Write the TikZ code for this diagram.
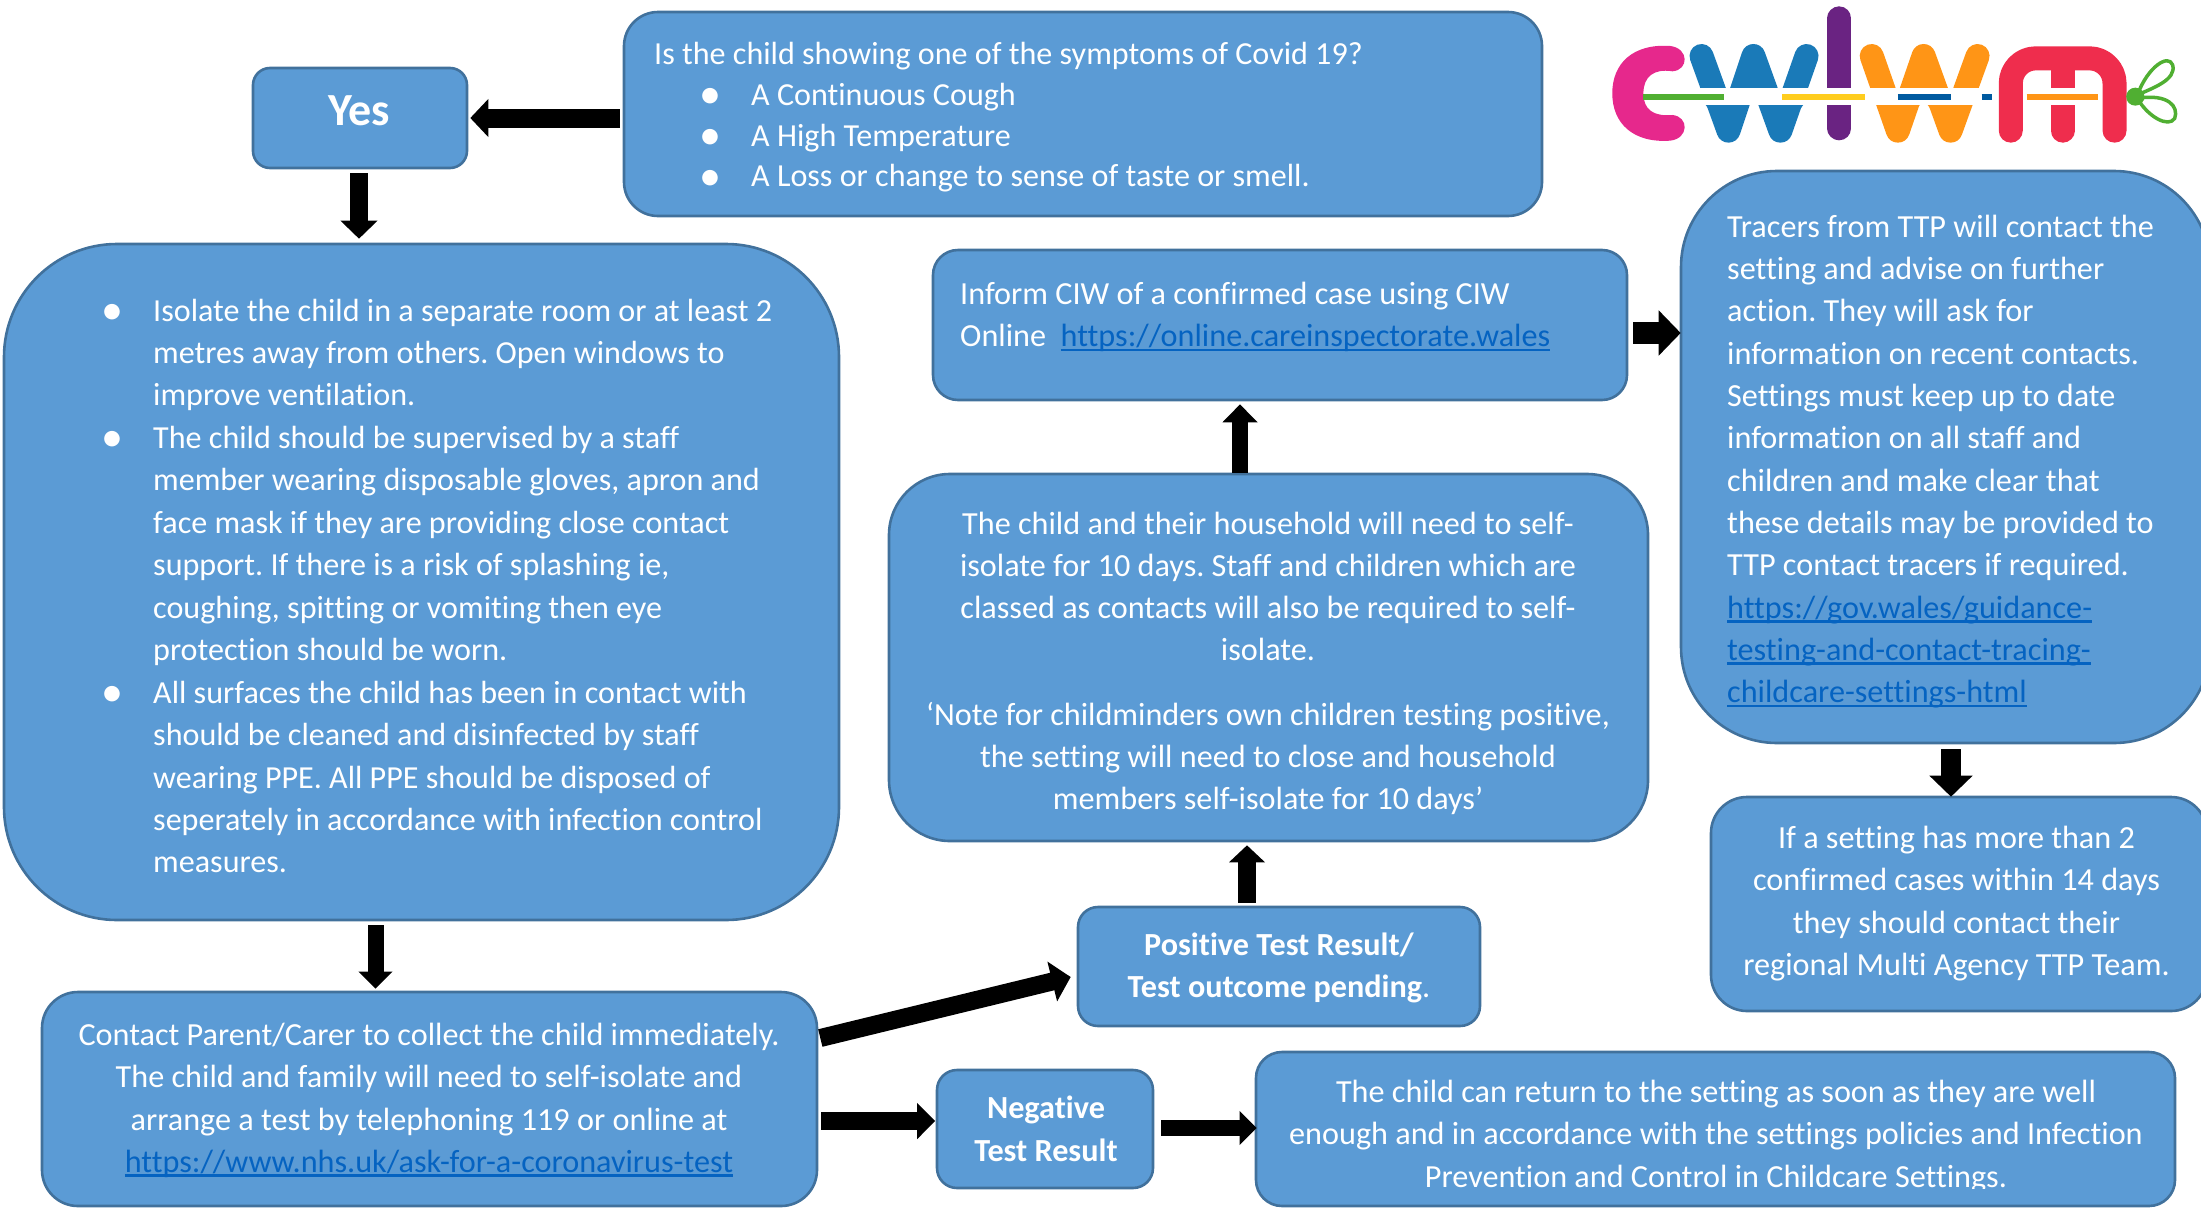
\documentclass[tikz,border=0pt]{standalone}
\usepackage{fontspec}
\setmainfont[Ligatures=NoCommon]{Carlito}
\frenchspacing
\usetikzlibrary{arrows.meta}
\definecolor{boxfill}{HTML}{5B9BD5}
\definecolor{boxline}{HTML}{41719C}
\definecolor{linkc}{HTML}{0563C1}
\newsavebox{\lnkbox}
\newcommand{\lnk}[1]{\sbox{\lnkbox}{\color{linkc}#1}\leavevmode\rlap{\usebox{\lnkbox}}{\color{linkc}\rule[-4.5pt]{\wd\lnkbox}{2.6pt}}}
\newcommand{\bul}{\makebox[0pt][r]{\fontsize{44}{44}\selectfont\raisebox{-3.5pt}{•}\hspace{30pt}}}
\tikzset{
  box/.style n args={4}{draw=boxline,fill=boxfill,line width=2.6pt,inner sep=0pt,rectangle,
    minimum width=#1pt,minimum height=#2pt,rounded corners=#3pt,#4},
  txt/.style={text=white,inner sep=0pt,font=\fontsize{32.2}{42.3}\selectfont},
  txtc/.style={txt,align=center},
  txtl/.style={txt,align=left,anchor=west},
  blockarrow/.style n args={3}{draw=black,line width=#1pt,-{Triangle[width=#2pt,length=#3pt]}},
}
\begin{document}
\begin{tikzpicture}[x=1pt,y=-1pt]
\useasboundingbox (0,0) rectangle (2201,1208);
% boxes
\node[box={918}{204}{34}{}] (q) at (1083,114) {};
\node[box={214}{100}{17}{}] (yes) at (360,118) {};
\node[box={835}{676}{113}{}] (big) at (421.5,582) {};
\node[box={775}{214}{36}{}] (contact) at (429.5,1099) {};
\node[box={402}{119}{20}{}] (pos) at (1279,966.5) {};
\node[box={216}{118}{20}{}] (neg) at (1045,1129) {};
\node[box={919}{154}{26}{}] (back) at (1715.5,1129) {};
\node[box={694}{150}{25}{}] (inform) at (1280,325) {};
\node[box={759}{367}{61}{}] (middle) at (1268.5,657.5) {};
\node[box={529}{572}{96}{}] (tracers) at (1945.5,457) {};
\node[box={496}{214}{36}{}] (regional) at (1959,904) {};
% texts
\node[txtl,font=\fontsize{32.1}{40.8}\selectfont] (qtext) at (654,117.5) {\strut Is the child showing one of the symptoms of Covid 19?\\
\hspace{97pt}\bul A Continuous Cough\\
\hspace{97pt}\bul A High Temperature\\
\hspace{97pt}\bul\strut A Loss or change to sense of taste or smell.};
\node[txtc,font=\fontsize{46}{50}\selectfont\bfseries] (ytext) at (359,111) {Yes};
\node[txtl,font=\fontsize{32.1}{42.45}\selectfont] (bigtext) at (153,588.5) {\bul\strut Isolate the child in a separate room or at least 2\\
metres away from others. Open windows to\\
improve ventilation.\\
\bul The child should be supervised by a staff\\
member wearing disposable gloves, apron and\\
face mask if they are providing close contact\\
support. If there is a risk of splashing ie,\\
coughing, spitting or vomiting then eye\\
protection should be worn.\\
\bul All surfaces the child has been in contact with\\
should be cleaned and disinfected by staff\\
wearing PPE. All PPE should be disposed of\\
seperately in accordance with infection control\\
\strut measures.};
\node[txtc] (ctext) at (429,1100.5) {\strut Contact Parent/Carer to collect the child immediately.\\
The child and family will need to self-isolate and\\
arrange a test by telephoning 119 or online at\\
\strut\lnk{https://www.nhs.uk/ask-for-a-coronavirus-test}};
\node[txtc] (ptext) at (1279,968) {\strut\textbf{Positive Test Result/}\\\strut\textbf{Test outcome pending}.};
\node[txtc] (ntext) at (1046,1131.5) {\strut\textbf{Negative}\\\strut\textbf{Test Result}};
\begin{scope}
\clip (1255,1051) rectangle (2176,1188);
\node[txtc] (btext) at (1716,1136.5) {\strut The child can return to the setting as soon as they are well\\
enough and in accordance with the settings policies and Infection\\
\strut Prevention and Control in Childcare Settings.};
\end{scope}
\node[txtl] (itext) at (960,317) {\strut Inform CIW of a confirmed case using CIW\\
\strut Online\ \ \lnk{https://online.careinspectorate.wales}};
\node[txtc] (mtext) at (1268,663.5) {\strut The child and their household will need to self-\\
isolate for 10 days. Staff and children which are\\
classed as contacts will also be required to self-\\
isolate.\\[22pt]
‘Note for childminders own children testing positive,\\
the setting will need to close and household\\
\strut members self-isolate for 10 days’};
\node[txtl] (ttext) at (1727,461.5) {\strut Tracers from TTP will contact the\\
setting and advise on further\\
action. They will ask for\\
information on recent contacts.\\
Settings must keep up to date\\
information on all staff and\\
children and make clear that\\
these details may be provided to\\
TTP contact tracers if required.\\
\lnk{https://gov.wales/guidance-}\\
\lnk{testing-and-contact-tracing-}\\
\strut\lnk{childcare-settings-html}};
\node[txtc] (rtext) at (1956.5,903.5) {\strut If a setting has more than 2\\
confirmed cases within 14 days\\
they should contact their\\
\strut regional Multi Agency TTP Team.};
% connectors
\draw[blockarrow={19}{37}{18}] ([shift={(-3,4)}]q.west) -- ([shift={(2,0)}]yes.east);
\draw[blockarrow={17.5}{36}{18}] ([shift={(-1,4)}]yes.south) -- ([shift={(-62.5,-4)}]big.north);
\draw[blockarrow={16}{33}{17}] ([shift={(-46,4)}]big.south) -- ([shift={(-54,-2)}]contact.north);
\draw[blockarrow={18}{35}{18}] ([shift={(3,22)}]contact.east) -- ([shift={(-0.5,-8)}]neg.west);
\draw[blockarrow={16}{33}{17}] ([shift={(7,-1)}]neg.east) -- ([shift={(2,-1)}]back.west);
\draw[blockarrow={18}{40}{19}] ([shift={(2,-61)}]contact.east) -- ([shift={(-6,10.5)}]pos.west);
\draw[blockarrow={16}{34}{18}] ([shift={(-28.5,0)}]middle.north) -- ([shift={(-40,3)}]inform.south);
\draw[blockarrow={17.4}{35}{17}] ([shift={(-32,-3)}]pos.north) -- ([shift={(-21.5,3)}]middle.south);
\draw[blockarrow={22}{44}{22}] ([shift={(5,8)}]inform.east) -- ([shift={(1,-124)}]tracers.west);
\draw[blockarrow={20.6}{42}{21}] ([shift={(5.5,5)}]tracers.south) -- ([shift={(-8,1)}]regional.north);
% logo
\begin{scope}[shift={(1550,0)},x=0.4151pt,y=-0.3333pt,line cap=round,line join=round]
\fill[color={rgb,255:red,230;green,40;blue,140}]
  (290,138) .. controls (200,130) and (150,190) .. (150,280) .. controls (150,370) and (200,430) .. (290,422)
  .. controls (335,415) and (335,350) .. (295,345) .. controls (250,350) and (225,330) .. (225,280)
  .. controls (225,230) and (250,205) .. (295,214) .. controls (335,210) and (335,145) .. (290,138) -- cycle;
\draw[color={rgb,255:red,26;green,122;blue,184},line width=24pt]
  (365,168) -- (430,392) -- (490,168) -- (555,392) -- (618,168);
\fill[color={rgb,255:red,26;green,122;blue,184}] (375,315) -- (610,315) -- (560,400) -- (525,300) -- (455,300) -- (430,400) -- cycle;
\draw[color={rgb,255:red,106;green,35;blue,130},line width=24pt] (697,55) -- (697,385);
\draw[color={rgb,255:red,255;green,149;blue,22},line width=24pt]
  (775,168) -- (838,392) -- (900,168) -- (965,392) -- (1030,168);
\fill[color={rgb,255:red,255;green,149;blue,22}] (850,265) -- (950,265) -- (900,150) -- cycle;
\fill[color={rgb,255:red,255;green,149;blue,22}] (800,315) -- (1005,315) -- (965,400) -- (900,300) -- (838,400) -- cycle;
\draw[color={rgb,255:red,239;green,45;blue,77},line width=24pt,rounded corners=25pt]
  (1110,392) -- (1110,175) -- (1360,175) -- (1360,392);
\draw[color={rgb,255:red,239;green,45;blue,77},line width=24pt] (1235,210) -- (1235,392);
\fill[white] (330,263) rectangle (1075,315);
\fill[white] (1150,263) rectangle (1320,315);
\draw[color={rgb,255:red,80;green,175;blue,50},line width=6pt,line cap=butt] (225,290) -- (420,290);
\draw[color={rgb,255:red,255;green,205;blue,30},line width=6pt,line cap=butt] (560,290) -- (760,290);
\draw[color={rgb,255:red,0;green,90;blue,160},line width=6pt,line cap=butt] (838,290) -- (965,290);
\draw[color={rgb,255:red,0;green,90;blue,160},line width=6pt,line cap=butt] (1040,290) -- (1065,290);
\draw[color={rgb,255:red,255;green,149;blue,22},line width=6pt,line cap=butt] (1148,290) -- (1320,290);
\fill[color={rgb,255:red,80;green,175;blue,50}] (1410,290) ellipse (22 and 27);
\draw[color={rgb,255:red,80;green,175;blue,50},line width=3.5pt]
  (1415,285) .. controls (1440,200) and (1490,160) .. (1500,195) .. controls (1510,240) and (1450,265) .. (1415,285);
\draw[color={rgb,255:red,80;green,175;blue,50},line width=3.5pt]
  (1415,295) .. controls (1490,280) and (1515,320) .. (1505,355) .. controls (1490,385) and (1440,350) .. (1415,295);
\end{scope}
\end{tikzpicture}
\end{document}
